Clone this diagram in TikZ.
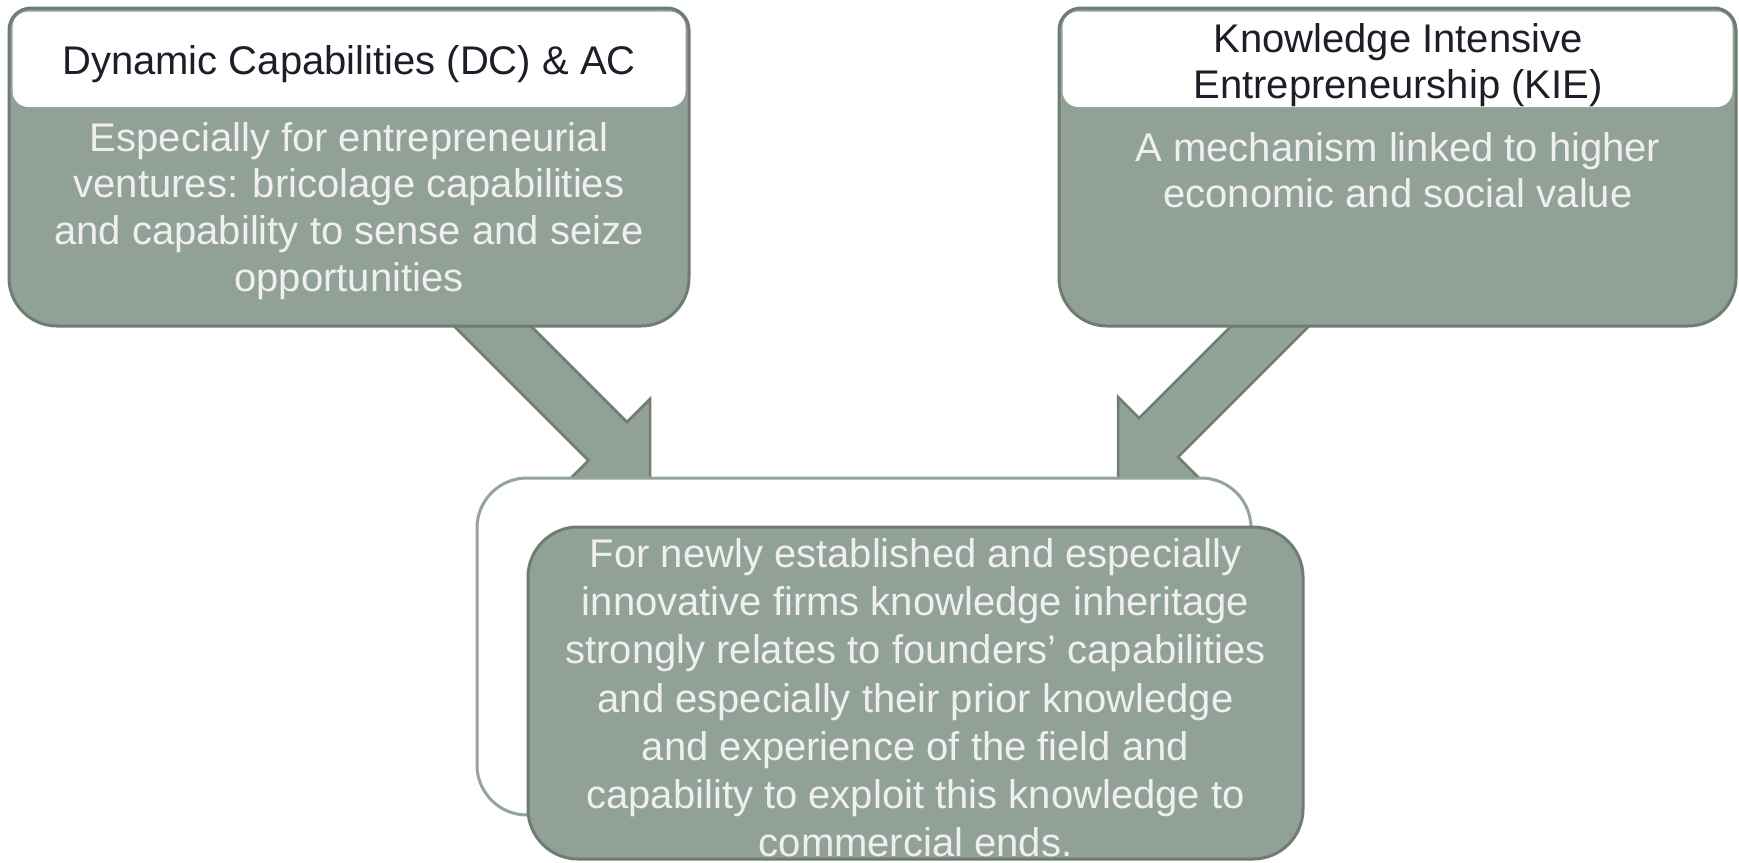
\documentclass[tikz,border=0pt]{standalone}
\usepackage{fontspec}
\setmainfont{Liberation Sans}
\definecolor{sage}{HTML}{92A197}
\definecolor{sagedark}{HTML}{6E7C72}
\definecolor{sagelight}{HTML}{94A499}
\definecolor{titletext}{HTML}{1E1E2A}
\definecolor{bodytext}{HTML}{EFEFEF}
\tikzset{
  blockbox/.style={fill=sage, draw=sagedark, line width=3pt, line join=round},
  blockarrow/.style={fill=sage, draw=sagedark, line width=2.5pt, line join=miter},
  headbox/.style={fill=white, rounded corners=16pt},
  outerbox/.style={fill=white, draw=sagelight, line width=3pt, rounded corners=50pt},
  titlefont/.style={font=\fontsize{40}{46.7}\selectfont, text=titletext, align=center, inner sep=0pt, anchor=north},
  bodyfont/.style={font=\fontsize{40}{46.7}\selectfont, text=bodytext, align=center, inner sep=0pt, anchor=north},
  bottomfont/.style={font=\fontsize{40}{48.3}\selectfont, text=bodytext, align=center, inner sep=0pt, anchor=north},
}
\begin{document}
\begin{tikzpicture}[x=1pt,y=-1pt]
\useasboundingbox (0,0) rectangle (1739,862);

% block arrows (behind the boxes)
\draw[blockarrow] (428,300) -- (505,300) -- (627,422) -- (650,399) -- (650,483.5)
   -- (565.5,483.5) -- (588.5,460.5) -- cycle;
\draw[blockarrow] (1257,300) -- (1139,418) -- (1118,397) -- (1118,478)
   -- (1199,478) -- (1178,457) -- (1335,300) -- cycle;

% left box
\draw[blockbox] (9,170) [rounded corners=22pt] |- (349,8) -| (689,170)
   [rounded corners=48pt] |- (349,326) -| (9,170) -- cycle;
\fill[headbox] (12.5,11.5) rectangle (685.5,107);
\node[titlefont] (dctitle) at (349,45) {Dynamic Capabilities (DC) \& AC};
\node[bodyfont] (dcbody) at (349,122) {Especially for entrepreneurial\\ventures: bricolage capabilities\\and capability to sense and seize\\opportunities};

% right box
\draw[blockbox] (1059,170) [rounded corners=22pt] |- (1398,8) -| (1736,170)
   [rounded corners=48pt] |- (1398,326) -| (1059,170) -- cycle;
\fill[headbox] (1062.5,11.5) rectangle (1732.5,107);
\node[titlefont] (kietitle) at (1398,23) {Knowledge Intensive\\Entrepreneurship (KIE)};
\node[bodyfont] (kiebody) at (1398,132) {A mechanism linked to higher\\economic and social value};

% bottom boxes
\draw[outerbox] (477,478) rectangle (1251,815);
\draw[blockbox, rounded corners=50pt] (528,527) rectangle (1303,859);
\node[bottomfont] (kibody) at (915.5,538) {For newly established and especially\\innovative firms knowledge inheritage\\strongly relates to founders’ capabilities\\and especially their prior knowledge\\and experience of the field and\\capability to exploit this knowledge to\\commercial ends.};
\end{tikzpicture}
\end{document}
